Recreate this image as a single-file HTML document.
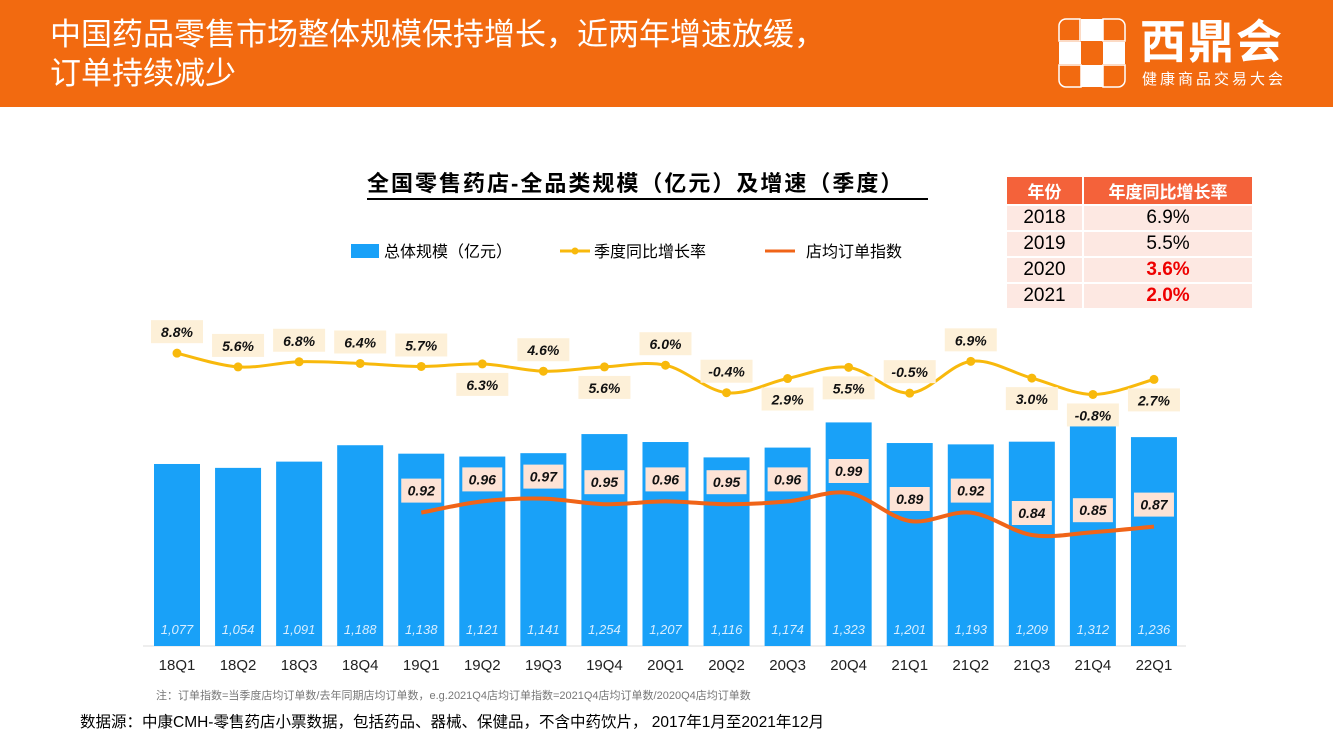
<!DOCTYPE html>
<html><head><meta charset="utf-8"><style>
body{margin:0;width:1333px;height:750px;overflow:hidden;background:#fff;font-family:"Liberation Sans","Noto Sans CJK SC",sans-serif;position:relative}
.hdr{position:absolute;left:0;top:0;width:1333px;height:107px;background:#f26a10}
.ht{position:absolute;left:50px;top:15px;color:#fff;font-size:31px;line-height:39px}
.tbl{position:absolute;left:1007px;top:177px;border-collapse:collapse;font-size:19px}
.tbl td{padding:0;text-align:center;border-bottom:2px solid #fff;border-right:2px solid #fff;background:#fde8e2;height:24px}
.tbl th{background:#f4623a;color:#fff;height:24px;font-size:17px;border-right:2px solid #fff;border-bottom:2px solid #fff}
.red{color:#e00;font-weight:bold}
</style></head><body>
<div class="hdr">
<div class="ht">中国药品零售市场整体规模保持增长，近两年增速放缓，<br>订单持续减少</div>
<svg style="position:absolute;left:1058px;top:18px" width="70" height="72">
<g fill="#fff"><rect x="23" y="1" width="22" height="22"/><rect x="1" y="24" width="22" height="22"/><rect x="45" y="24" width="22" height="22"/><rect x="23" y="47" width="22" height="22"/></g>
<g fill="none" stroke="#fff" stroke-width="1.5"><path d="M1 23V8a7 7 0 0 1 7-7h14v22z"/><path d="M45 1h15a7 7 0 0 1 7 7v15H45z"/><path d="M1 47h22v22H8a7 7 0 0 1-7-7z"/><path d="M45 47h22v15a7 7 0 0 1-7 7H45z"/></g></svg>
<div style="position:absolute;left:1140px;top:14px;color:#fff;font-size:46px;font-weight:bold;letter-spacing:2px;line-height:56px">西鼎会</div>
<div style="position:absolute;left:1142px;top:68px;color:#fff;font-size:15px;letter-spacing:3px">健康商品交易大会</div>
</div>
<div style="position:absolute;left:367px;top:170px;width:561px;font-size:22px;letter-spacing:2px;font-weight:bold;line-height:28px;border-bottom:2px solid #000;white-space:nowrap">全国零售药店-全品类规模（亿元）及增速（季度）</div>
<table class="tbl">
<tr><th style="width:73px">年份</th><th style="width:166px">年度同比增长率</th></tr>
<tr><td>2018</td><td>6.9%</td></tr><tr><td>2019</td><td>5.5%</td></tr>
<tr><td>2020</td><td class="red">3.6%</td></tr><tr><td>2021</td><td class="red">2.0%</td></tr></table>
<svg id="ch" style="position:absolute;left:0;top:0" width="1333" height="750">
<g font-size="16">
<rect x="351" y="244" width="28" height="14" fill="#19a1f8"/><text x="384" y="257">总体规模（亿元）</text>
<line x1="560" y1="251" x2="590" y2="251" stroke="#f8b90c" stroke-width="3"/><circle cx="575" cy="251" r="3.5" fill="#f8b90c"/><text x="594" y="257">季度同比增长率</text>
<line x1="765" y1="251" x2="795" y2="251" stroke="#f06418" stroke-width="3"/><text x="806" y="257">店均订单指数</text>
</g>
<line x1="143" y1="646" x2="1186" y2="646" stroke="#ddd"/>
</svg>
<div style="position:absolute;left:156px;top:687px;font-size:11px;color:#777;white-space:nowrap">注：订单指数=当季度店均订单数/去年同期店均订单数，e.g.2021Q4店均订单指数=2021Q4店均订单数/2020Q4店均订单数</div>
<div style="position:absolute;left:80px;top:710px;font-size:15.5px;white-space:nowrap">数据源：中康CMH-零售药店小票数据，包括药品、器械、保健品，不含中药饮片， 2017年1月至2021年12月</div>
<script>
const categories=["18Q1","18Q2","18Q3","18Q4","19Q1","19Q2","19Q3","19Q4","20Q1","20Q2","20Q3","20Q4","21Q1","21Q2","21Q3","21Q4","22Q1"];
const scaleValues=[1077,1054,1091,1188,1138,1121,1141,1254,1207,1116,1174,1323,1201,1193,1209,1312,1236];
const growthValues=[8.8,5.6,6.8,6.4,5.7,6.3,4.6,5.6,6.0,-0.4,2.9,5.5,-0.5,6.9,3.0,-0.8,2.7];
const growthLabelSide=[-1,-1,-1,-1,-1,1,-1,1,-1,-1,1,1,-1,-1,1,1,1];
const orderValues=[null,null,null,null,0.92,0.96,0.97,0.95,0.96,0.95,0.96,0.99,0.89,0.92,0.84,0.85,0.87];
const svg=document.getElementById('ch');const NS='http://www.w3.org/2000/svg';
const x=i=>177+i*61.06, yBar=v=>646-v*0.169, yG=v=>391-v*4.3, yO=v=>493+(0.99-v)*280;
function mk(t,a,p){const e=document.createElementNS(NS,t);for(const k in a)e.setAttribute(k,a[k]);(p||svg).appendChild(e);return e;}
function smooth(pts){let d=`M${pts[0][0]},${pts[0][1]}`;for(let i=0;i<pts.length-1;i++){const p0=pts[i-1]||pts[i],p1=pts[i],p2=pts[i+1],p3=pts[i+2]||p2;d+=` C${p1[0]+(p2[0]-p0[0])/6},${p1[1]+(p2[1]-p0[1])/6} ${p2[0]-(p3[0]-p1[0])/6},${p2[1]-(p3[1]-p1[1])/6} ${p2[0]},${p2[1]}`;}return d;}
categories.forEach((c,i)=>{
 const b=mk('rect',{x:x(i)-23,y:yBar(scaleValues[i]),width:46,height:646-yBar(scaleValues[i]),fill:'#19a1f8'});
 
 const t=mk('text',{x:x(i),y:634,'text-anchor':'middle','font-size':13,'font-style':'italic',fill:'#d8eeff'});t.textContent=scaleValues[i].toLocaleString('en-US');
 
 const l=mk('text',{x:x(i),y:670,'text-anchor':'middle','font-size':15,fill:'#222'});l.textContent=c;
 
});
const gp=growthValues.map((v,i)=>[x(i),yG(v)]);
const gl=mk('path',{d:smooth(gp),fill:'none',stroke:'#f8b90c','stroke-width':3});

const op=[];orderValues.forEach((v,i)=>{if(v!==null)op.push([x(i),yO(v)]);});
const ol=mk('path',{d:smooth(op),fill:'none',stroke:'#f06418','stroke-width':4});

growthValues.forEach((v,i)=>{
 const p=mk('circle',{cx:gp[i][0],cy:gp[i][1],r:4.5,fill:'#f8b90c'});
 
 const ly=gp[i][1]+growthLabelSide[i]*21;
 mk('rect',{x:gp[i][0]-26,y:ly-12,width:52,height:23,fill:'#fdf0d8'});
 const t=mk('text',{x:gp[i][0],y:ly+5,'text-anchor':'middle','font-size':14,'font-weight':'bold','font-style':'italic',fill:'#111'});t.textContent=v.toFixed(1)+'%';
 
});
orderValues.forEach((v,i)=>{if(v===null)return;
 const ly=yO(v)-22;
 mk('rect',{x:x(i)-20,y:ly-12,width:40,height:24,fill:'#fde3d6'});
 const t=mk('text',{x:x(i),y:ly+5,'text-anchor':'middle','font-size':14,'font-weight':'bold','font-style':'italic',fill:'#111'});t.textContent=v.toFixed(2);
 
});
</script>
</body></html>
